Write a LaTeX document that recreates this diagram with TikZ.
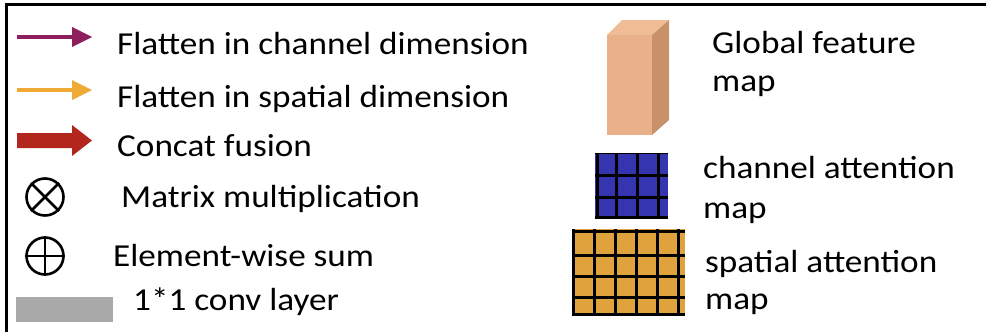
\documentclass[tikz,border=0pt]{standalone}
\usepackage{graphicx}
\usepackage{fontspec}
\setmainfont{Carlito}
\definecolor{cpurple}{HTML}{8E1F5C}
\definecolor{corange}{HTML}{EFAA35}
\definecolor{cred}{HTML}{B3261E}
\definecolor{cgray}{HTML}{A9A9A9}
\definecolor{cfront}{HTML}{E9B08A}
\definecolor{ctop}{HTML}{EFBC96}
\definecolor{cside}{HTML}{C8916A}
\definecolor{cblue}{HTML}{3535B0}
\definecolor{cgold}{HTML}{E0A23C}
\newcommand{\wtxt}[1]{\scalebox{1.1}[1]{#1}}
\begin{document}
\begin{tikzpicture}[x=1pt,y=-1pt,
  lbl/.style={anchor=west,inner sep=0pt,font=\fontsize{32}{38}\selectfont},
  gridline/.style={line width=3pt,black}]
\useasboundingbox (0,0) rectangle (986,332);
\fill[white] (0,0) rectangle (986,332);
% frame
\draw[line width=3pt] (6,332) -- (6,4) -- (986,4);
% arrows
\draw[cpurple,line width=4pt] (17,37) -- (74,37);
\fill[cpurple] (72,27) -- (92,37) -- (72,47) -- cycle;
\draw[corange,line width=4pt] (17,90) -- (74,90);
\fill[corange] (72,80) -- (92,90) -- (72,100) -- cycle;
\fill[cred] (17,133) -- (72,133) -- (72,125) -- (92,140.5) -- (72,156) -- (72,148) -- (17,148) -- cycle;
% symbols
\node[circle,draw,line width=2.6pt,minimum size=37pt,inner sep=0pt] (mul) at (45,197) {};
\draw[line width=2.6pt] (mul.north west) -- (mul.south east) (mul.north east) -- (mul.south west);
\node[circle,draw,line width=2.6pt,minimum size=37pt,inner sep=0pt] (sum) at (45,256) {};
\draw[line width=2.6pt] (sum.north) -- (sum.south) (sum.west) -- (sum.east);
\fill[cgray] (16,297) rectangle (113,322);
% left labels
\node[lbl] (t1) at (117,44) {\wtxt{Flatten in channel dimension}};
\node[lbl] (t2) at (117,99) {\wtxt{Flatten in spatial dimension}};
\node[lbl] (t3) at (117,146) {\wtxt{Concat fusion}};
\node[lbl] (t4) at (121,199) {\wtxt{Matrix multiplication}};
\node[lbl] (t5) at (113,256) {\wtxt{Element-wise sum}};
\node[lbl] (t6) at (133,302) {\wtxt{1*1 conv layer}};
% cuboid
\fill[cfront] (607,35) rectangle (652,135);
\fill[ctop] (607,35) -- (622,20) -- (669,20) -- (652,35) -- cycle;
\fill[cside] (652,35) -- (669,20) -- (669,120) -- (652,135) -- cycle;
% blue grid
\fill[cblue] (595,153) rectangle (668,218);
\foreach \x in {597,616,637,658} \draw[gridline] (\x,153) -- (\x,218);
\foreach \y in {175,197,217} \draw[gridline] (595,\y) -- (668,\y);
\draw[line width=1pt] (595,153.5) -- (668,153.5);
% gold grid
\fill[cgold] (572,229) rectangle (685,315);
\foreach \x in {573,594,615,636,657,678} \draw[gridline] (\x,229) -- (\x,315);
\foreach \y in {231,255,276,297,314} \draw[gridline] (572,\y) -- (685,\y);
% right labels
\node[lbl] (r1) at (712,43) {\wtxt{Global feature}};
\node[lbl] (r1b) at (712,86) {\wtxt{map}};
\node[lbl] (r2) at (703,168) {\wtxt{channel attention}};
\node[lbl] (r2b) at (703,213) {\wtxt{map}};
\node[lbl] (r3) at (705,264) {\wtxt{spatial attention}};
\node[lbl] (r3b) at (705,304) {\wtxt{map}};
\end{tikzpicture}
\end{document}
